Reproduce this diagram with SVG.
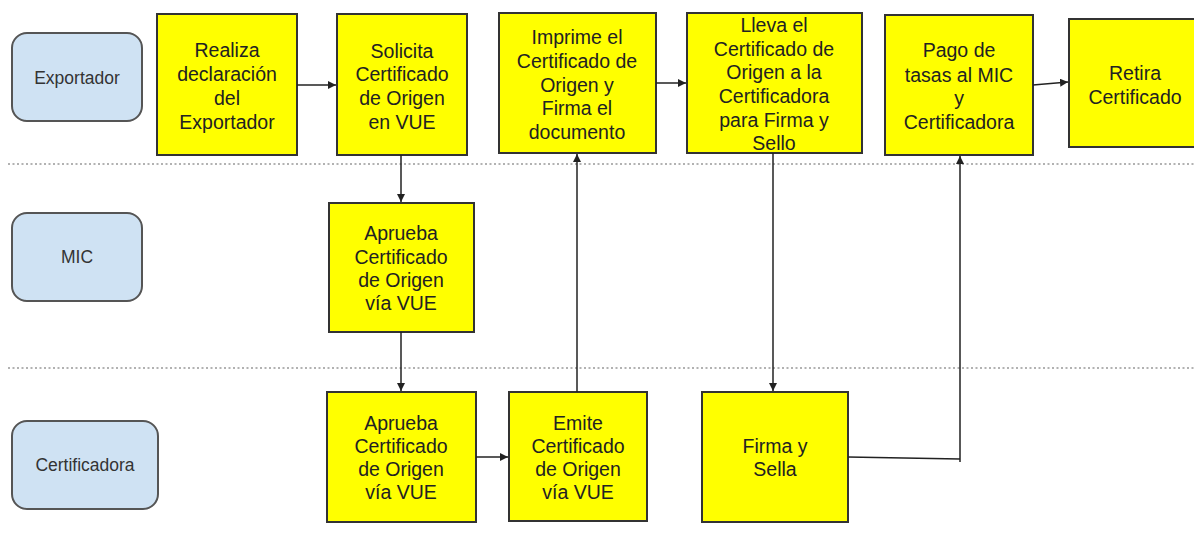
<svg xmlns="http://www.w3.org/2000/svg" width="1194" height="540" viewBox="0 0 1194 540">
<defs>
<style>
.lane rect{fill:#cfe2f3;stroke:#555;stroke-width:2}
.lane text{font-family:"Liberation Sans",Arial,sans-serif;font-size:17.5px;fill:#333;text-anchor:middle}
.node rect{fill:#ffff00;stroke:#333;stroke-width:2}
.node text{font-family:"Liberation Sans",Arial,sans-serif;font-size:19.5px;fill:#222;text-anchor:middle}
.sep{stroke:#999;stroke-width:1.5;stroke-dasharray:2 2.5;fill:none}
.conn path{stroke:#222;stroke-width:1.5;fill:none}
</style>
<marker id="ah" viewBox="0 0 10 10" refX="10" refY="5" markerWidth="8" markerHeight="8" markerUnits="userSpaceOnUse" orient="auto">
<path d="M0,0 L10,5 L0,10 z" fill="#222"/>
</marker>
</defs>
<rect width="1194" height="540" fill="#fff"/>
<line class="sep" x1="8" y1="164" x2="1194" y2="164"/>
<line class="sep" x1="8" y1="368" x2="1194" y2="368"/>

<g id="lane-exportador" class="lane"><rect x="12" y="33" width="130" height="88" rx="15"/><text x="77" y="84">Exportador</text></g>
<g id="lane-mic" class="lane"><rect x="12" y="213" width="130" height="88" rx="15"/><text x="77" y="263">MIC</text></g>
<g id="lane-certificadora" class="lane"><rect x="12" y="421" width="146" height="88" rx="15"/><text x="85" y="471">Certificadora</text></g>

<g id="n-realiza" class="node"><rect x="157" y="14" width="140" height="141"/>
<text x="227"><tspan x="227" y="57">Realiza</tspan><tspan x="227" y="81">declaración</tspan><tspan x="227" y="105">del</tspan><tspan x="227" y="129">Exportador</tspan></text></g>
<g id="n-solicita" class="node"><rect x="337" y="14" width="130" height="141"/>
<text x="402"><tspan x="402" y="58">Solicita</tspan><tspan x="402" y="81">Certificado</tspan><tspan x="402" y="105">de Origen</tspan><tspan x="402" y="129">en VUE</tspan></text></g>
<g id="n-imprime" class="node"><rect x="499" y="13" width="157" height="140"/>
<text x="577"><tspan x="577" y="44">Imprime el</tspan><tspan x="577" y="68">Certificado de</tspan><tspan x="577" y="92">Origen y</tspan><tspan x="577" y="115">Firma el</tspan><tspan x="577" y="139">documento</tspan></text></g>
<g id="n-lleva" class="node"><rect x="687" y="13" width="175" height="140"/>
<text x="774"><tspan x="774" y="32">Lleva el</tspan><tspan x="774" y="56">Certificado de</tspan><tspan x="774" y="79">Origen a la</tspan><tspan x="774" y="103">Certificadora</tspan><tspan x="774" y="127">para Firma y</tspan><tspan x="774" y="150">Sello</tspan></text></g>
<g id="n-pago" class="node"><rect x="885" y="15" width="148" height="140"/>
<text x="959"><tspan x="959" y="57">Pago de</tspan><tspan x="959" y="82">tasas al MIC</tspan><tspan x="959" y="105">y</tspan><tspan x="959" y="129">Certificadora</tspan></text></g>
<g id="n-retira" class="node"><rect x="1069" y="19" width="132" height="128"/>
<text x="1135"><tspan x="1135" y="80">Retira</tspan><tspan x="1135" y="104">Certificado</tspan></text></g>
<g id="n-aprueba-mic" class="node"><rect x="329" y="203" width="145" height="129"/>
<text x="401"><tspan x="401" y="240">Aprueba</tspan><tspan x="401" y="264">Certificado</tspan><tspan x="401" y="287">de Origen</tspan><tspan x="401" y="310">vía VUE</tspan></text></g>
<g id="n-aprueba-cert" class="node"><rect x="327" y="392" width="149" height="130"/>
<text x="401"><tspan x="401" y="430">Aprueba</tspan><tspan x="401" y="453">Certificado</tspan><tspan x="401" y="476">de Origen</tspan><tspan x="401" y="499">vía VUE</tspan></text></g>
<g id="n-emite" class="node"><rect x="509" y="392" width="138" height="129"/>
<text x="578"><tspan x="578" y="430">Emite</tspan><tspan x="578" y="453">Certificado</tspan><tspan x="578" y="476">de Origen</tspan><tspan x="578" y="499">vía VUE</tspan></text></g>
<g id="n-firma" class="node"><rect x="702" y="392" width="146" height="130"/>
<text x="775"><tspan x="775" y="453">Firma y</tspan><tspan x="775" y="476">Sella</tspan></text></g>

<g id="connectors" class="conn">
<path d="M297,85 L336,85" marker-end="url(#ah)"/>
<path d="M401,155 L401,202" marker-end="url(#ah)"/>
<path d="M401,332 L401,391" marker-end="url(#ah)"/>
<path d="M476,457 L508,457" marker-end="url(#ah)"/>
<path d="M577,392 L577,154" marker-end="url(#ah)"/>
<path d="M656,83 L686,83" marker-end="url(#ah)"/>
<path d="M773,153 L773,391" marker-end="url(#ah)"/>
<path d="M848,457 L960,459 M960,462 L960,156" marker-end="url(#ah)"/>
<path d="M1033,85 L1068,82" marker-end="url(#ah)"/>
</g>
</svg>
